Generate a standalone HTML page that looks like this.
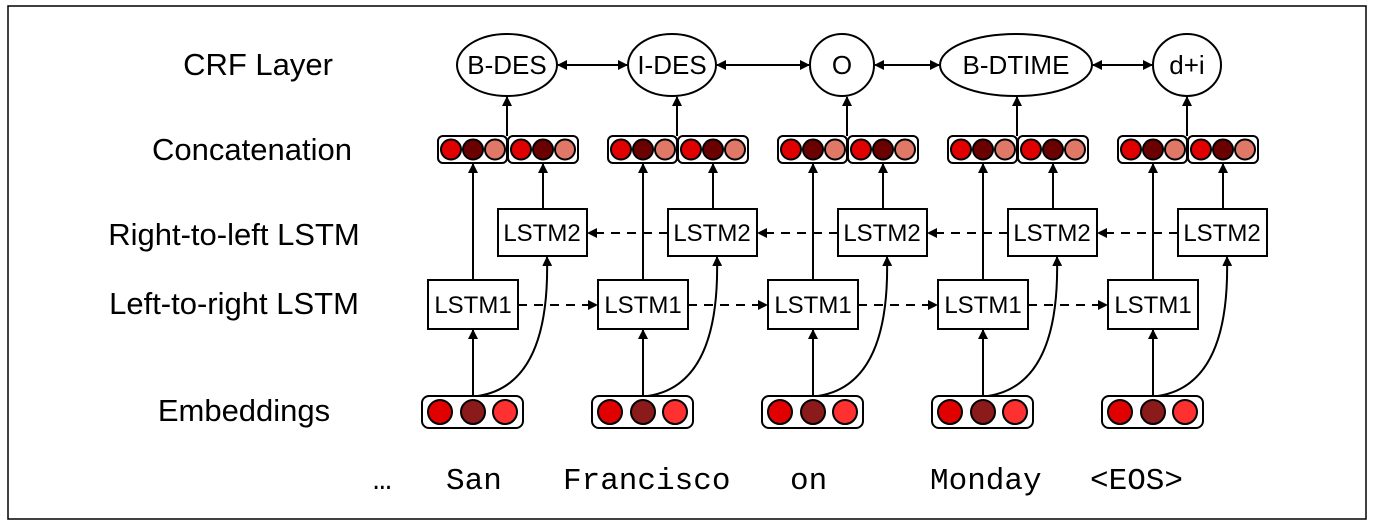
<!DOCTYPE html>
<html><head><meta charset="utf-8"><style>
body{margin:0;background:#fff}
svg{display:block}
text{font-family:"Liberation Sans",sans-serif;fill:#000}
text.l{font-size:31px}
text.b{font-size:24px}
text.e{font-size:26px}
text.m{font-family:"Liberation Mono",monospace;font-size:31px}
</style></head><body>
<svg width="1376" height="528" viewBox="0 0 1376 528" xmlns="http://www.w3.org/2000/svg">
<defs>
<marker id="a" markerWidth="10" markerHeight="10" refX="9" refY="5" orient="auto" markerUnits="userSpaceOnUse"><path d="M0,0 L10,5 L0,10 z" fill="#000"/></marker>
<marker id="s" markerWidth="10" markerHeight="10" refX="1" refY="5" orient="auto" markerUnits="userSpaceOnUse"><path d="M10,0 L0,5 L10,10 z" fill="#000"/></marker>
<g id="col">
<rect x="422" y="396" width="101" height="32" rx="7" fill="#fff" stroke="#000" stroke-width="2"/>
<circle cx="440" cy="412" r="12" fill="#e00000" stroke="#000" stroke-width="2"/>
<circle cx="473" cy="412" r="12" fill="#8b1a1a" stroke="#000" stroke-width="2"/>
<circle cx="505" cy="412" r="12" fill="#ff3030" stroke="#000" stroke-width="2"/>
<rect x="428" y="280" width="90" height="49" fill="#fff" stroke="#000" stroke-width="2"/>
<rect x="498" y="209" width="89" height="47" fill="#fff" stroke="#000" stroke-width="2"/>
<rect x="438" y="136" width="69" height="27" rx="5" fill="#fff" stroke="#000" stroke-width="2"/>
<rect x="508" y="136" width="70" height="27" rx="5" fill="#fff" stroke="#000" stroke-width="2"/>
<circle cx="451" cy="149.5" r="10" fill="#e00000" stroke="#000" stroke-width="2"/>
<circle cx="473" cy="149.5" r="10" fill="#6b0000" stroke="#000" stroke-width="2"/>
<circle cx="495" cy="149.5" r="10" fill="#e07868" stroke="#000" stroke-width="2"/>
<circle cx="521" cy="149.5" r="10" fill="#e00000" stroke="#000" stroke-width="2"/>
<circle cx="543" cy="149.5" r="10" fill="#6b0000" stroke="#000" stroke-width="2"/>
<circle cx="565" cy="149.5" r="10" fill="#e07868" stroke="#000" stroke-width="2"/>
<g stroke="#000" stroke-width="2" fill="none">
<line x1="473" y1="396" x2="473" y2="330" marker-end="url(#a)"/>
<line x1="473" y1="280" x2="473" y2="164" marker-end="url(#a)"/>
<path d="M478,396 C530,388 549,335 547,257" marker-end="url(#a)"/>
<line x1="543" y1="209" x2="543" y2="164" marker-end="url(#a)"/>
<line x1="507" y1="136" x2="507" y2="97" marker-end="url(#a)"/>
</g>
</g>
</defs>
<rect x="8" y="6" width="1358" height="513" fill="none" stroke="#000" stroke-width="1.5"/>
<text class="l" x="258" y="75" text-anchor="middle">CRF Layer</text>
<text class="l" x="252" y="160" text-anchor="middle">Concatenation</text>
<text class="l" x="234" y="245" text-anchor="middle">Right-to-left LSTM</text>
<text class="l" x="234" y="314" text-anchor="middle">Left-to-right LSTM</text>
<text class="l" x="244" y="421" text-anchor="middle">Embeddings</text>

<use href="#col"/>
<use href="#col" x="170"/>
<use href="#col" x="340"/>
<use href="#col" x="510"/>
<use href="#col" x="680"/>

<g text-anchor="middle">
<text class="b" x="473" y="313">LSTM1</text><text class="b" x="643" y="313">LSTM1</text><text class="b" x="813" y="313">LSTM1</text><text class="b" x="983" y="313">LSTM1</text><text class="b" x="1153" y="313">LSTM1</text>
<text class="b" x="542" y="241">LSTM2</text><text class="b" x="712" y="241">LSTM2</text><text class="b" x="882" y="241">LSTM2</text><text class="b" x="1052" y="241">LSTM2</text><text class="b" x="1222" y="241">LSTM2</text>
</g>

<g stroke="#000" stroke-width="2" fill="none" stroke-dasharray="9,7">
<line x1="518" y1="305" x2="597" y2="305" marker-end="url(#a)"/>
<line x1="688" y1="305" x2="767" y2="305" marker-end="url(#a)"/>
<line x1="858" y1="305" x2="937" y2="305" marker-end="url(#a)"/>
<line x1="1028" y1="305" x2="1107" y2="305" marker-end="url(#a)"/>
<line x1="668" y1="233" x2="588" y2="233" marker-end="url(#a)"/>
<line x1="838" y1="233" x2="758" y2="233" marker-end="url(#a)"/>
<line x1="1008" y1="233" x2="928" y2="233" marker-end="url(#a)"/>
<line x1="1178" y1="233" x2="1098" y2="233" marker-end="url(#a)"/>
</g>

<g stroke="#000" stroke-width="2" fill="#fff">
<ellipse cx="507" cy="65" rx="50" ry="31"/>
<ellipse cx="672" cy="65" rx="44" ry="31"/>
<ellipse cx="842" cy="65" rx="32" ry="31"/>
<ellipse cx="1016" cy="65" rx="76" ry="31"/>
<ellipse cx="1187" cy="65" rx="34" ry="31"/>
</g>
<g stroke="#000" stroke-width="2" fill="none">
<line x1="558" y1="65" x2="627" y2="65" marker-start="url(#s)" marker-end="url(#a)"/>
<line x1="717" y1="65" x2="809" y2="65" marker-start="url(#s)" marker-end="url(#a)"/>
<line x1="875" y1="65" x2="939" y2="65" marker-start="url(#s)" marker-end="url(#a)"/>
<line x1="1093" y1="65" x2="1152" y2="65" marker-start="url(#s)" marker-end="url(#a)"/>
</g>
<g text-anchor="middle">
<text class="e" x="507" y="74">B-DES</text>
<text class="e" x="672" y="74">I-DES</text>
<text class="e" x="842" y="74">O</text>
<text class="e" x="1016" y="74">B-DTIME</text>
<text class="e" x="1187" y="74">d+i</text>
</g>

<text class="m" x="373" y="489">…</text>
<text class="m" x="446" y="489">San</text>
<text class="m" x="563" y="489">Francisco</text>
<text class="m" x="790" y="489">on</text>
<text class="m" x="930" y="489">Monday</text>
<text class="m" x="1090" y="489">&lt;EOS&gt;</text>
</svg>
</body></html>
